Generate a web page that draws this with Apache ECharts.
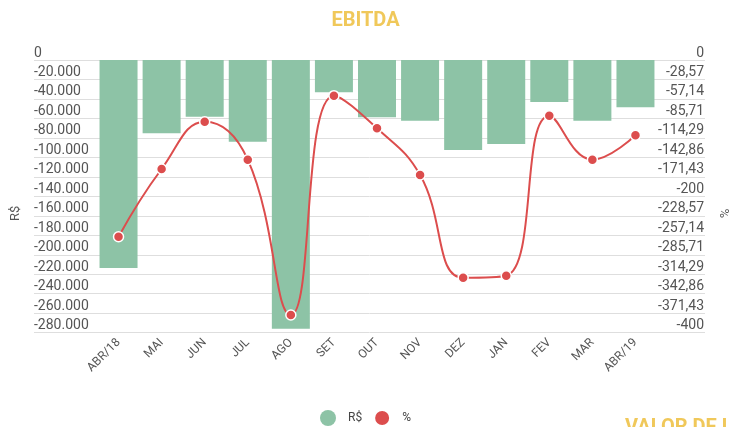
<!DOCTYPE html>
<html>
<head>
<meta charset="utf-8">
<script src="https://cdn.jsdelivr.net/npm/echarts@6/dist/echarts.min.js"></script>
<style>
  html, body { margin: 0; padding: 0; background: #fff; }
  #chart { width: 731px; height: 427px; }
</style>
</head>
<body>
<div id="chart"></div>
<script>
  // meses
  var months = ['ABR/18', 'MAI', 'JUN', 'JUL', 'AGO', 'SET', 'OUT', 'NOV', 'DEZ', 'JAN', 'FEV', 'MAR', 'ABR/19'];
  // EBITDA em R$
  var ebitdaValor = [-213600, -75300, -58200, -83900, -275900, -33200, -58900, -62300, -92400, -86200, -43100, -62300, -48600];
  // EBITDA em %
  var ebitdaPct = [-259.2, -159.9, -90.5, -146.2, -374.1, -52.3, -100.2, -168.7, -319.3, -316.4, -81.7, -146.2, -110.5];

  var leftMin = -280000, leftStep = 20000;
  var rightMin = -400, rightStep = 400 / 14;

  var gold = '#f0c85a';
  var green = '#8dc3a6';
  var red = '#dc4d4d';
  var fnt = 'Roboto';

  function fmtReais(v) {
    return String(Math.round(v)).replace(/\B(?=(\d{3})+(?!\d))/g, '.');
  }
  function fmtPct(v) {
    return String(Math.round(v * 100) / 100).replace('.', ',');
  }

  var myChart = echarts.init(document.getElementById('chart'));
  var option = {
    animation: false,
    textStyle: { fontFamily: fnt },
    title: [
      {
        text: 'EBITDA',
        left: 'center',
        top: 11,
        padding: 0,
        textStyle: { color: gold, fontSize: 20, fontWeight: 'bold', fontFamily: fnt }
      },
      {
        text: 'VALOR DE L',
        left: 625,
        top: 418,
        padding: 0,
        textStyle: { color: gold, fontSize: 20, fontWeight: 'bold', fontFamily: fnt }
      }
    ],
    legend: {
      data: ['R$', '%'],
      left: 320,
      top: 409,
      icon: 'circle',
      itemWidth: 16,
      itemHeight: 16,
      itemGap: 11,
      padding: 0,
      textStyle: { color: '#444', fontSize: 12, fontFamily: fnt, padding: [0, 0, 0, 7] }
    },
    grid: [
      { left: 97, right: 74, top: 60, bottom: 94.3, outerBoundsMode: 'none' },
      { left: 34, right: 26, top: 60, bottom: 94.3, outerBoundsMode: 'none' }
    ],
    xAxis: [
      {
        type: 'category',
        gridIndex: 0,
        data: months,
        axisLine: { show: false },
        axisTick: { show: false },
        axisLabel: { rotate: 45, margin: 8, color: '#555', fontSize: 12, fontFamily: fnt, interval: 0 }
      },
      { type: 'value', gridIndex: 1, show: false }
    ],
    yAxis: [
      {
        type: 'value',
        gridIndex: 0,
        position: 'left',
        min: leftMin,
        max: 0,
        interval: leftStep,
        name: 'R$',
        nameLocation: 'middle',
        nameGap: 75,
        nameTextStyle: { color: '#555', fontSize: 13, fontFamily: fnt, padding: [0, 34, 0, 0] },
        axisLine: { show: false },
        axisTick: { show: false },
        splitLine: { show: false },
        axisLabel: {
          align: 'left', verticalAlign: 'bottom', margin: 63,
          color: '#555', fontSize: 14, fontFamily: fnt,
          formatter: fmtReais
        }
      },
      {
        type: 'value',
        gridIndex: 0,
        position: 'right',
        min: rightMin,
        max: 0,
        interval: rightStep,
        name: '%',
        nameLocation: 'middle',
        nameRotate: -90,
        nameGap: 60,
        nameTextStyle: { color: '#555', fontSize: 13, fontFamily: fnt, padding: [0, 0, 0, 34] },
        axisLine: { show: false },
        axisTick: { show: false },
        splitLine: { show: false },
        axisLabel: {
          align: 'right', verticalAlign: 'bottom', margin: 47,
          color: '#555', fontSize: 14, fontFamily: fnt,
          formatter: fmtPct
        }
      },
      {
        // linhas de grade que passam por baixo dos rótulos
        type: 'value',
        gridIndex: 1,
        min: leftMin,
        max: 0,
        interval: leftStep,
        axisLine: { show: false },
        axisTick: { show: false },
        axisLabel: { show: false },
        splitLine: { show: true, lineStyle: { color: '#dedede', width: 1 } }
      }
    ],
    series: [
      {
        name: 'R$',
        type: 'bar',
        xAxisIndex: 0,
        yAxisIndex: 0,
        barWidth: 38,
        itemStyle: { color: green },
        data: ebitdaValor
      },
      {
        name: '%',
        type: 'line',
        xAxisIndex: 0,
        yAxisIndex: 1,
        smooth: 0.45,
        symbol: 'circle',
        symbolSize: 10,
        lineStyle: { color: red, width: 2 },
        itemStyle: { color: red, borderColor: '#fff', borderWidth: 1.5 },
        data: ebitdaPct
      }
    ]
  };
  myChart.setOption(option);
</script>
</body>
</html>
